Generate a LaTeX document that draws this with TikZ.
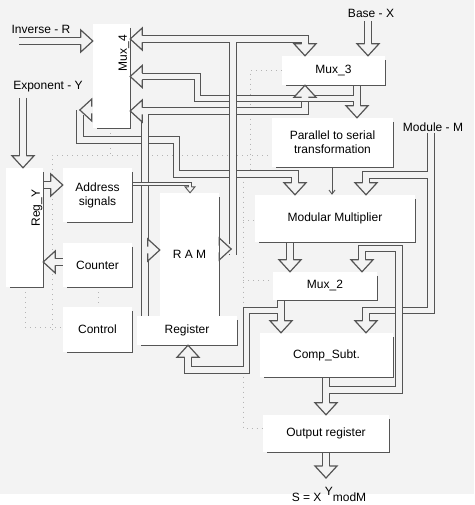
\documentclass[tikz,border=0pt]{standalone}
\usepackage{fontspec}
\setmainfont{Liberation Sans}
\usepackage{tikz}
\usepackage{xcolor}
\usetikzlibrary{
    arrows.meta,
    positioning,
    calc
}
\definecolor{paper}{HTML}{F3F3F3}
\definecolor{lineclr}{HTML}{555555}
\definecolor{faint}{HTML}{B4B4B4}
\tikzset{
    % Block style
    block/.style={
        rectangle,
        fill=white,
        inner sep=2pt,
        align=center,
        font=\fontsize{12}{14}\selectfont
    },
    % Shadow edge of a block
    edge/.style={
        draw=lineclr,
        line width=1.2pt
    },
    % Bus style
    bus/.style={
        draw=lineclr,
        line width=1.2pt,
        double=paper,
        double distance=5.4pt
    },
    % Narrow bus style
    minibus/.style={
        draw=lineclr,
        line width=0.9pt,
        double=paper,
        double distance=1.8pt
    },
    % Single wire style
    signal/.style={
        -{Straight Barb[length=4pt, width=6pt]},
        draw=lineclr,
        line width=0.9pt
    },
    % Control line style
    ctrl/.style={
        draw=faint,
        line width=0.9pt,
        dash pattern=on 1pt off 4pt
    },
    % Label text style
    tag/.style={
        font=\fontsize{12}{14}\selectfont,
        inner sep=1pt
    },
    % Hollow bus head
    bushead/.pic={
        \fill[paper] (-12,-4.8) rectangle (0,4.8);
        \filldraw[fill=paper, draw=lineclr, line width=1.2pt, line join=miter]
            (-12,3.3) -- (-12,11) -- (0,0) -- (-12,-11) -- (-12,-3.3);
    },
    % Small hollow head
    minihead/.pic={
        \fill[paper] (-6,-2) rectangle (0,2);
        \filldraw[fill=paper, draw=lineclr, line width=0.9pt, line join=miter]
            (-6,1.35) -- (-6,5) -- (0,0) -- (-6,-5) -- (-6,-1.35);
    }
}

\begin{document}
\begin{tikzpicture}[x=1pt, y=-1pt]

    % Paper
    \useasboundingbox (0,0) rectangle (474,505);
    \fill[white] (0,0) rectangle (474,505);
    \fill[paper] (0,0) rectangle (474,494);

    % Left column
    \node[block, minimum width=37pt, minimum height=104pt] (mux4) at (111.5,76) {};
    \node[tag, rotate=90] (mux4lbl) at (124,53) {Mux\_4};
    \node[block, minimum width=37pt, minimum height=119pt] (regy) at (24.5,227.5) {};
    \node[tag, rotate=90] (regylbl) at (37,208) {Reg\_Y};
    \node[block, minimum width=69pt, minimum height=54pt] (addr) at (97.5,195) {Address\\signals};
    \node[block, minimum width=69pt, minimum height=44pt] (counter) at (97.5,265) {Counter};
    \node[block, minimum width=69pt, minimum height=45pt] (control) at (97.5,329.5) {Control};
    \node[block, minimum width=59pt, minimum height=123pt] (ram) at (189.5,254.5) {R A M};
    \node[block, minimum width=100pt, minimum height=29pt] (register) at (187,330.5) {Register};

    % Right column
    \node[block, minimum width=103pt, minimum height=29pt] (mux3) at (333.5,70.5) {Mux\_3};
    \node[block, minimum width=121pt, minimum height=49pt] (ptos) at (332.5,142.5) {Parallel to serial\\transformation};
    \node[block, minimum width=160pt, minimum height=47pt] (modmult) at (335,218.5) {Modular Multiplier};
    \node[block, minimum width=104pt, minimum height=28pt] (mux2) at (325,286) {Mux\_2};
    \node[block, minimum width=133pt, minimum height=44pt] (comp) at (326.5,355) {Comp\_Subt.};
    \node[block, minimum width=126pt, minimum height=37pt] (outreg) at (326,433.5) {Output register};

    % Inputs and result
    \node[tag] (inv) at (41,29) {Inverse - R};
    \node[tag] (expo) at (48,87) {Exponent - Y};
    \node[tag] (basex) at (371,13) {Base - X};
    \node[tag] (modm) at (433,127) {Module - M};
    \node[tag] (result) at (329,494) {S = X \raisebox{6pt}{Y}modM};

    % Control lines
    \draw[ctrl] (mux3.west) -| (250,176) -| (243,428) -- (outreg.west |- 0,428);
    \draw[ctrl] (52,330) |- (ptos.west |- 0,155);
    \draw[ctrl] (mux4.south -| 110,0) -- (110,155);
    \draw[ctrl] (243,220) -- (modmult.west |- 0,220);
    \draw[ctrl] (243,280) -- (mux2.west |- 0,280);
    \draw[ctrl] (regy.south -| 25,0) |- (control.west |- 0,327);
    \draw[ctrl] (counter.south -| 98,0) -- (control.north -| 98,0);

    % Buses
    \draw[bus] (19,41) -- (mux4.west |- 0,41);
    \draw[bus] (23,98) -- (regy.north -| 23,0);
    \draw[bus] (368,21) -- (mux3.north -| 368,0);
    \draw[bus] (regy.east |- 0,185) -- (addr.west |- 0,185);
    \draw[bus] (counter.west |- 0,262) -- (regy.east |- 0,262);

    \draw[bus] (80,110) |- (176.5,140) |- (295,174) -- (modmult.north -| 295,0);

    \draw[bus] (register.north -| 145,0) -- (145,111) -- (mux4.east |- 0,111)
               (145,111) -| (mux3.south -| 305,0);

    \draw[bus] (mux3.south -| 357,0) -- (ptos.north -| 357,0)
               (357,98.5) -| (197.5,76.5) -- (mux4.east |- 0,76.5);

    \draw[bus] (mux4.east |- 0,39) -| (ram.east -| 233,0)
               (233,39) -| (mux3.north -| 305,0);

    \draw[bus] (modm.south -| 431,0) |- (366,310.5) -- (comp.north -| 366,0)
               (431,175) -| (modmult.north -| 366,0);

    \draw[bus] (modmult.south -| 290,0) -- (mux2.north -| 290,0);

    \draw[bus] (mux2.south -| 281,0) -- (comp.north -| 281,0)
               (281,310.5) -| (246.5,370) -| (register.south -| 188,0);

    \draw[bus] (comp.south -| 326,0) -- (outreg.north -| 326,0)
               (326,390) -| (399,248.5) -| (mux2.north -| 362,0);

    \draw[bus] (outreg.south -| 326,0) -- (326,478);

    \draw[minibus] (addr.east |- 0,184) -| (ram.north -| 190,0);
    \draw[signal] (ptos.south -| 332,0) -- (modmult.north -| 332,0);

    % Bus heads
    \pic at (mux4.west |- 0,41) {bushead};
    \pic[rotate=-90] at (regy.north -| 23,0) {bushead};
    \pic[rotate=-90] at (mux3.north -| 368,0) {bushead};
    \pic at (addr.west |- 0,185) {bushead};
    \pic[rotate=180] at (regy.east |- 0,262) {bushead};
    \pic[xshift=-13pt, rotate=180] at (mux4.west |- 0,110) {bushead};
    \pic[rotate=180] at (mux4.east |- 0,39) {bushead};
    \pic[rotate=180] at (mux4.east |- 0,76.5) {bushead};
    \pic[rotate=180] at (mux4.east |- 0,111) {bushead};
    \pic[rotate=-90] at (mux3.north -| 305,0) {bushead};
    \pic[rotate=90] at (mux3.south -| 305,0) {bushead};
    \pic at (ram.west |- 0,250) {bushead};
    \pic[xshift=12pt] at (ram.east |- 0,249) {bushead};
    \pic[rotate=-90] at (ptos.north -| 357,0) {bushead};
    \pic[rotate=-90] at (modmult.north -| 295,0) {bushead};
    \pic[rotate=-90] at (modmult.north -| 366,0) {bushead};
    \pic[rotate=-90] at (mux2.north -| 290,0) {bushead};
    \pic[rotate=-90] at (mux2.north -| 362,0) {bushead};
    \pic[rotate=-90] at (comp.north -| 281,0) {bushead};
    \pic[rotate=-90] at (comp.north -| 366,0) {bushead};
    \pic[rotate=90] at (register.south -| 188,0) {bushead};
    \pic[rotate=-90] at (outreg.north -| 326,0) {bushead};
    \pic[rotate=-90] at (326,478) {bushead};
    \pic[rotate=-90] at (ram.north -| 190,0) {minihead};

    % Block edges
    \foreach \n in {mux4, regy, addr, counter, control, register, mux3, ptos, modmult, mux2, comp, outreg}
        \draw[edge] ([yshift=-4pt]\n.north east) |- ([xshift=4pt]\n.south west);
    \draw[edge] ([yshift=-4pt]ram.north east) -- (ram.south east);

\end{tikzpicture}
\end{document}
